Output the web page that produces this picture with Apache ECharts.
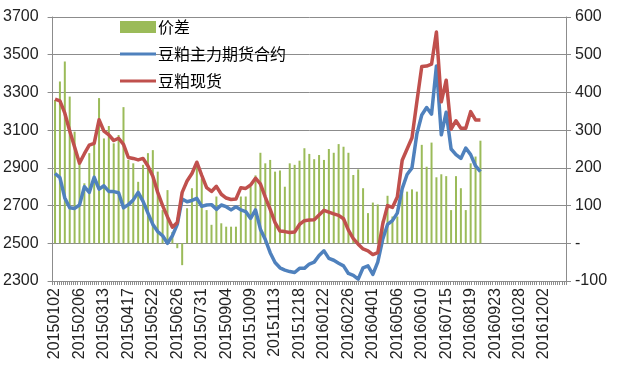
<!DOCTYPE html>
<html>
<head>
<meta charset="utf-8">
<script src="https://cdn.jsdelivr.net/npm/echarts@6/dist/echarts.min.js"></script>
<style>
html,body{margin:0;padding:0;background:#fff;}
#chart{width:622px;height:372px;}
</style>
</head>
<body>
<div id="chart"></div>
<script>
// weekly categories
const categories = [
 '20150102','20150109','20150116','20150123','20150130','20150206','20150213','20150220','20150227','20150306',
 '20150313','20150320','20150327','20150403','20150410','20150417','20150424','20150501','20150508','20150515',
 '20150522','20150529','20150605','20150612','20150619','20150626','20150703','20150710','20150717','20150724',
 '20150731','20150807','20150814','20150821','20150828','20150904','20150911','20150918','20150925','20151002',
 '20151009','20151016','20151023','20151030','20151106','20151113','20151120','20151127','20151204','20151211',
 '20151218','20151225','20160101','20160108','20160115','20160122','20160129','20160205','20160212','20160219',
 '20160226','20160304','20160311','20160318','20160325','20160401','20160408','20160415','20160422','20160429',
 '20160506','20160513','20160520','20160527','20160603','20160610','20160617','20160624','20160701','20160708',
 '20160715','20160722','20160729','20160805','20160812','20160819','20160826','20160902','20160909','20160916',
 '20160923','20160930','20161007','20161014','20161021','20161028','20161104','20161111','20161118','20161125',
 '20161202','20161209','20161216','20161223','20161230'
];

// 价差 (right axis)
const spreadValues = [
 380,429,482,389,296,212,159,239,265,385,
 278,311,265,287,361,221,212,163,208,239,
 247,190,88,141,30,-13,-58,93,146,208,
 172,88,49,124,53,44,44,44,124,124,
 150,180,240,212,221,190,193,150,212,208,
 219,252,237,223,234,221,250,240,263,256,
 240,181,196,146,80,108,103,60,126,71,
 71,140,137,143,137,261,203,267,175,183,
 178,88,178,146,88,212,230,272
];

// 豆粕主力期货合约 (left axis)
const futuresValues = [
 2870,2848,2740,2688,2685,2703,2800,2770,2850,2787,
 2805,2775,2774,2768,2688,2705,2730,2770,2722,2660,
 2600,2562,2540,2500,2540,2600,2735,2720,2727,2738,
 2696,2703,2705,2680,2703,2694,2677,2694,2677,2668,
 2632,2677,2575,2520,2450,2398,2370,2358,2350,2345,
 2367,2367,2390,2400,2435,2460,2420,2410,2394,2380,
 2340,2330,2310,2370,2380,2335,2400,2520,2600,2620,
 2660,2790,2865,2900,3080,3180,3220,3185,3440,3075,
 3195,3000,2970,2950,3005,2970,2910,2880
];

// 豆粕现货 (left axis)
const spotValues = [
 3265,3255,3190,3095,3010,2925,2975,3020,3030,3155,
 3095,3075,3045,3057,3025,2955,2950,2942,2950,2910,
 2855,2770,2700,2640,2585,2610,2770,2830,2870,2930,
 2860,2795,2775,2802,2760,2740,2732,2735,2795,2791,
 2809,2845,2815,2745,2680,2610,2565,2562,2557,2560,
 2600,2620,2623,2625,2650,2675,2665,2656,2648,2630,
 2570,2525,2495,2470,2460,2440,2450,2600,2700,2690,
 2745,2940,3000,3060,3250,3437,3440,3450,3620,3250,
 3365,3105,3150,3110,3110,3198,3154,3154
];

const seriesNames = ['价差','豆粕主力期货合约','豆粕现货'];
const minorTickSlots = new Array(245).fill('');

const FONT = '"Liberation Sans", Arial, "Noto Sans CJK SC", sans-serif';
const LINE_ICON = 'path://M0,0H100V9H0Z';
const chart = echarts.init(document.getElementById('chart'));
chart.setOption({
  animation: false,
  backgroundColor: '#ffffff',
  textStyle: { fontFamily: FONT },
  grid: { left: 52, right: 56, top: 17, bottom: 91 },
  legend: {
    orient: 'vertical',
    left: 115,
    top: 14,
    padding: [5, 5, 5, 5],
    itemWidth: 36,
    itemHeight: 12,
    itemGap: 11,
    symbolKeepAspect: true,
    textStyle: { fontSize: 16, color: '#000', fontFamily: '"Noto Sans CJK SC", sans-serif', padding: [0,0,0,-3] },
    data: [
      { name: seriesNames[0], icon: 'rect' },
      { name: seriesNames[1], icon: LINE_ICON },
      { name: seriesNames[2], icon: LINE_ICON }
    ]
  },
  xAxis: [
    {
      type: 'category',
      data: categories,
      boundaryGap: true,
      axisLine: { lineStyle: { color: '#8c8c8c', width: 1 } },
      axisTick: { show: false },
      axisLabel: { interval: 4, rotate: 90, fontSize: 16, color: '#222', margin: 7, fontFamily: FONT }
    },
    {
      type: 'category',
      data: minorTickSlots,
      position: 'bottom',
      gridIndex: 0,
      boundaryGap: true,
      axisLine: { show: false },
      axisLabel: { show: false },
      axisTick: { show: true, interval: 0, length: 4, lineStyle: { color: '#8c8c8c' } }
    }
  ],
  yAxis: [
    {
      type: 'value', min: 2300, max: 3700, interval: 200,
      axisLine: { show: true, lineStyle: { color: '#8c8c8c' } },
      axisTick: { show: true, length: 5, inside: false, lineStyle: { color: '#8c8c8c' } },
      axisLabel: { fontSize: 16, color: '#222', margin: 14, fontFamily: FONT,
        formatter: v => String(v) },
      splitLine: { show: true, lineStyle: { color: '#8c8c8c', width: 1 } }
    },
    {
      type: 'value', min: -100, max: 600, interval: 100,
      axisLine: { show: true, lineStyle: { color: '#8c8c8c' } },
      axisTick: { show: true, length: 5, lineStyle: { color: '#8c8c8c' } },
      axisLabel: { fontSize: 16, color: '#222', margin: 9, fontFamily: FONT,
        formatter: v => (v === 0 ? '-' : String(v)) },
      splitLine: { show: false }
    }
  ],
  series: [
    {
      name: seriesNames[0], type: 'bar', xAxisIndex: 0, yAxisIndex: 1,
      data: spreadValues, barWidth: 2,
      itemStyle: { color: '#9BBB59' }
    },
    {
      name: seriesNames[1], type: 'line', xAxisIndex: 0, yAxisIndex: 0,
      data: futuresValues, symbol: 'none', smooth: false,
      lineStyle: { color: '#4F81BD', width: 3.5, join: 'round' },
      itemStyle: { color: '#4F81BD' }
    },
    {
      name: seriesNames[2], type: 'line', xAxisIndex: 0, yAxisIndex: 0,
      data: spotValues, symbol: 'none', smooth: false,
      lineStyle: { color: '#C0504D', width: 3.5, join: 'round' },
      itemStyle: { color: '#C0504D' }
    }
  ]
});
</script>
</body>
</html>
